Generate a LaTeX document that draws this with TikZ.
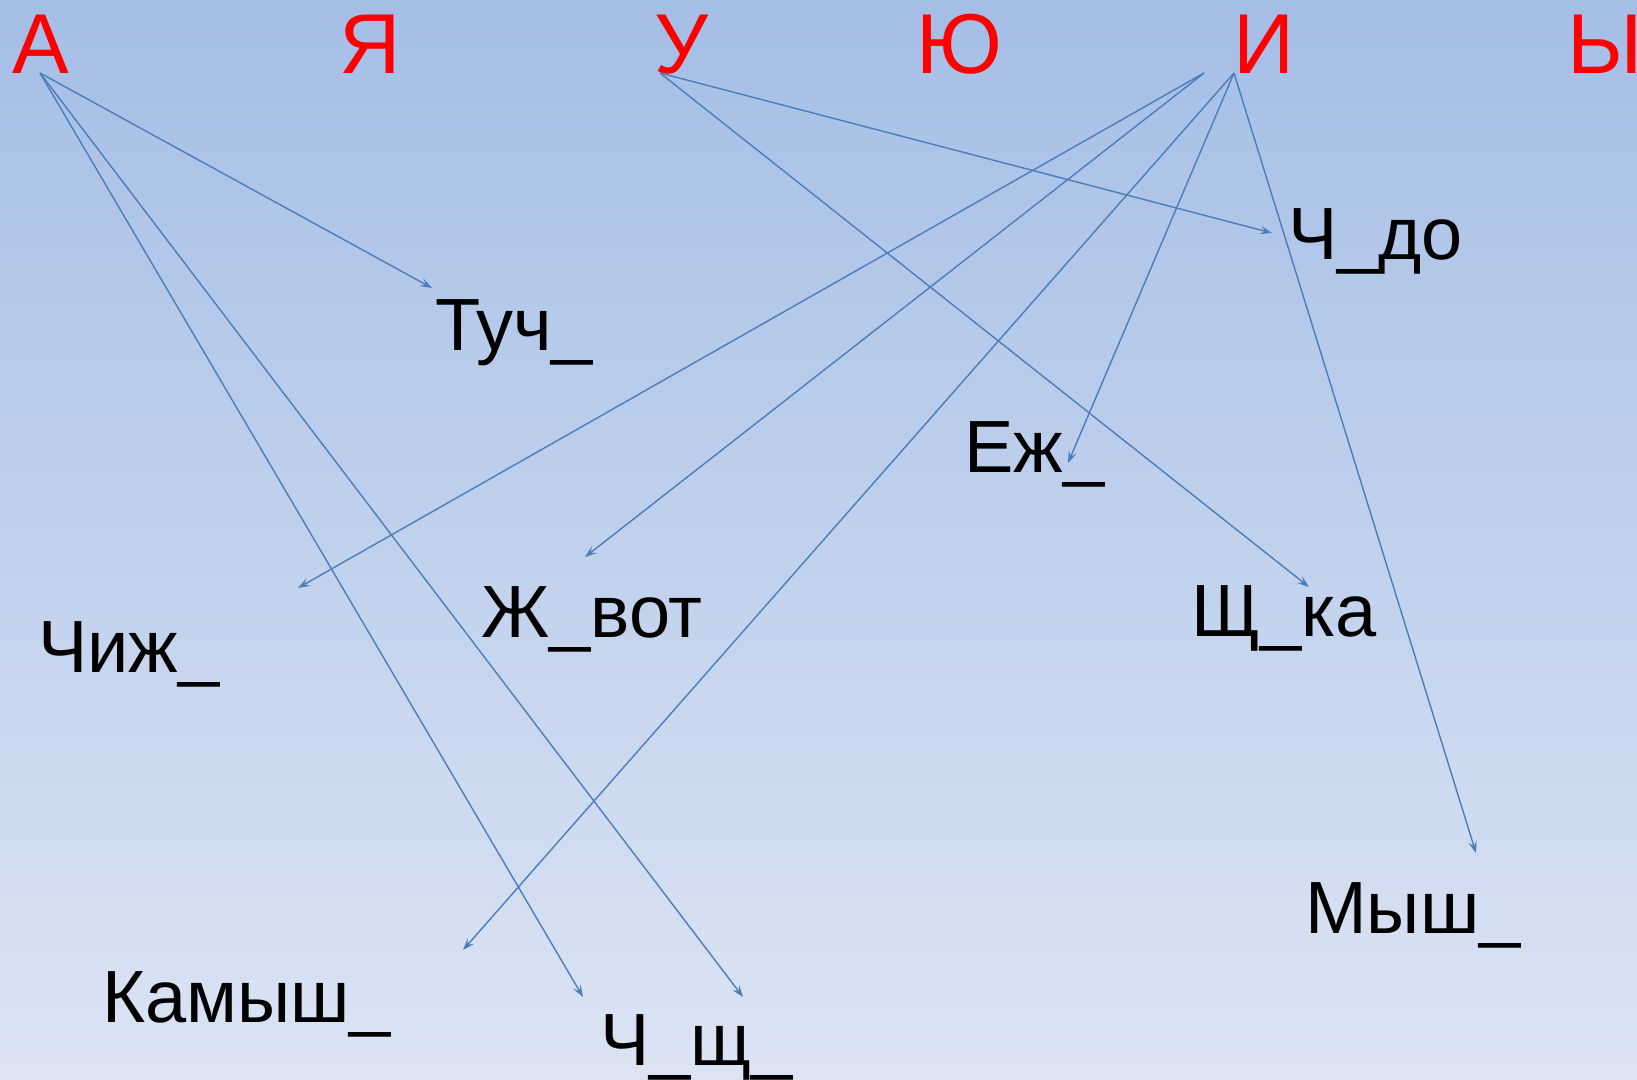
\documentclass[tikz,border=0pt]{standalone}
\usepackage{fontspec}
\setmainfont{Liberation Sans}
\usetikzlibrary{arrows.meta}

\definecolor{bgtop}{RGB}{165,190,230}
\definecolor{bgbottom}{RGB}{220,228,243}
\definecolor{linkblue}{RGB}{74,126,187}

\tikzset{
	vowel/.style={anchor=base west, inner sep=0pt, text=red, font=\fontsize{85}{85}\selectfont},
	word/.style={anchor=base west, inner sep=0pt, font=\fontsize{74}{74}\selectfont},
	link/.style={draw=linkblue, line width=1.4pt, -{Stealth[length=12pt,width=8.5pt,inset=5pt]}}
}

\begin{document}
\begin{tikzpicture}[x=1pt,y=-1pt]
				\useasboundingbox (0,0) rectangle (1637,1079);
				\clip (0,0) rectangle (1637,1079);
				\shade[top color=bgtop, bottom color=bgbottom] (0,0) rectangle (1637,1079);
				
				% vowels
				\node[vowel] (a) at (12,73) {А};
				\node[vowel] (ya) at (339,73) {Я};
				\node[vowel] (u) at (654,73) {У};
				\node[vowel] (yu) at (916,73) {Ю};
				\node[vowel] (i) at (1233,73) {И};
				\node[vowel] (y) at (1567,73) {Ы};
				
				% words
				\node[word] (tuch) at (435,350) {Туч\_};
				\node[word] (chdo) at (1288,259) {Ч\_до};
				\node[word] (ezh) at (964,472) {Еж\_};
				\node[word] (zhvot) at (481,637) {Ж\_вот};
				\node[word] (shchka) at (1191,636) {Щ\_ка};
				\node[word] (chizh) at (38,672) {Чиж\_};
				\node[word] (mysh) at (1305,933) {Мыш\_};
				\node[word] (kamysh) at (102,1022) {Камыш\_};
				\node[word] (chshch) at (600,1065) {Ч\_щ\_};
				
				% arrow ends
				\coordinate (a-out) at (40,73);
				\coordinate (u-out) at (660,73);
				\coordinate (i-out1) at (1204,73);
				\coordinate (i-out2) at (1234,73);
				
				\coordinate (tuch-in) at (432,288);
				\coordinate (chshch-in1) at (583,997);
				\coordinate (chshch-in2) at (743,997);
				\coordinate (chdo-in) at (1272,233);
				\coordinate (shchka-in) at (1309,587);
				\coordinate (chizh-in) at (298,588);
				\coordinate (zhvot-in) at (585,557);
				\coordinate (kamysh-in) at (463,950);
				\coordinate (ezh-in) at (1068,463);
				\coordinate (mysh-in) at (1476,853);
				
				\draw[link] (a-out) -- (tuch-in);
				\draw[link] (a-out) -- (chshch-in1);
				\draw[link] (a-out) -- (chshch-in2);
				\draw[link] (u-out) -- (chdo-in);
				\draw[link] (u-out) -- (shchka-in);
				\draw[link] (i-out1) -- (chizh-in);
				\draw[link] (i-out1) -- (zhvot-in);
				\draw[link] (i-out2) -- (kamysh-in);
				\draw[link] (i-out2) -- (ezh-in);
				\draw[link] (i-out2) -- (mysh-in);
			\end{tikzpicture}
\end{document}
